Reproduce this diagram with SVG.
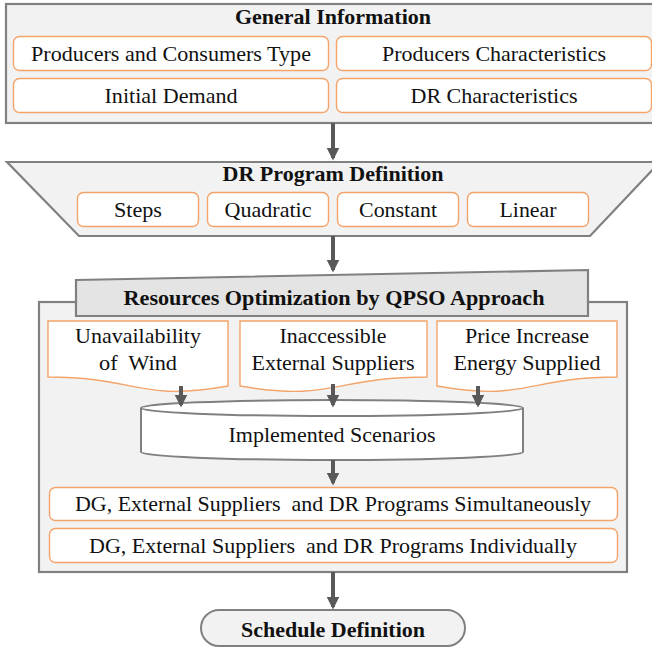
<svg xmlns="http://www.w3.org/2000/svg" width="652" height="650" viewBox="0 0 652 650">
<defs>
<style>
.grp{fill:#f2f2f2;stroke:#808080;stroke-width:2.2}
.hdr{fill:#e4e4e4;stroke:#808080;stroke-width:2.2}
.box{fill:#ffffff;stroke:#f4a46a;stroke-width:1.4}
.cyl{fill:#ffffff;stroke:#808080;stroke-width:2}
.t{font-family:'Liberation Serif',Tinos,'DejaVu Serif','Noto Serif',serif;font-size:22px;fill:#111;text-anchor:middle}
.b{font-weight:bold}
.arr{stroke:#595959;stroke-width:4;fill:none;marker-end:url(#ah)}
</style>
<marker id="ah" viewBox="0 0 10 10" refX="8" refY="5" markerWidth="3.2" markerHeight="4" markerUnits="strokeWidth" orient="auto">
<path d="M0,0 L10,5 L0,10 Z" fill="#595959"/>
</marker>
</defs>

<g id="general-information">
<rect class="grp" x="6" y="4" width="652" height="119"/>
<text class="t b" x="333" y="24" textLength="196" lengthAdjust="spacingAndGlyphs">General Information</text>
<g id="producers-consumers-type"><rect class="box" x="13.5" y="36.5" width="315" height="34" rx="6"/><text class="t" x="171" y="61" textLength="280" lengthAdjust="spacingAndGlyphs">Producers and Consumers Type</text></g>
<g id="producers-characteristics"><rect class="box" x="336.5" y="36.5" width="315" height="34" rx="6"/><text class="t" x="494" y="61" textLength="224" lengthAdjust="spacingAndGlyphs">Producers Characteristics</text></g>
<g id="initial-demand"><rect class="box" x="13.5" y="78.5" width="315" height="34" rx="6"/><text class="t" x="171" y="103" textLength="133" lengthAdjust="spacingAndGlyphs">Initial Demand</text></g>
<g id="dr-characteristics"><rect class="box" x="336.5" y="78.5" width="315" height="34" rx="6"/><text class="t" x="494" y="103" textLength="167" lengthAdjust="spacingAndGlyphs">DR Characteristics</text></g>
</g>

<g id="dr-program-definition">
<path class="grp" d="M7,162 L660,162 L590,236 L79,236 Z"/>
<text class="t b" x="333" y="181" textLength="221" lengthAdjust="spacingAndGlyphs">DR Program Definition</text>
<g id="steps"><rect class="box" x="77.5" y="192.5" width="121" height="34" rx="6"/><text class="t" x="138" y="217" textLength="48" lengthAdjust="spacingAndGlyphs">Steps</text></g>
<g id="quadratic"><rect class="box" x="207.5" y="192.5" width="121" height="34" rx="6"/><text class="t" x="268" y="217" textLength="87" lengthAdjust="spacingAndGlyphs">Quadratic</text></g>
<g id="constant"><rect class="box" x="337.5" y="192.5" width="121" height="34" rx="6"/><text class="t" x="398" y="217" textLength="78" lengthAdjust="spacingAndGlyphs">Constant</text></g>
<g id="linear"><rect class="box" x="467.5" y="192.5" width="121" height="34" rx="6"/><text class="t" x="528" y="217" textLength="57" lengthAdjust="spacingAndGlyphs">Linear</text></g>
</g>

<g id="resources-optimization">
<rect class="grp" x="39" y="302" width="588" height="270"/>
<path class="hdr" d="M76,280 L588,270 L588,316 L76,316 Z"/>
<text class="t b" x="334" y="305" textLength="421" lengthAdjust="spacingAndGlyphs">Resources Optimization by QPSO Approach</text>

<g id="unavailability-of-wind">
<path class="box" d="M48,321 H228 V386 C138,402 138,377 48,377 Z"/>
<text class="t" x="138" y="343" textLength="126" lengthAdjust="spacingAndGlyphs">Unavailability</text>
<text class="t" x="138" y="370" xml:space="preserve" textLength="78" lengthAdjust="spacingAndGlyphs">of  Wind</text>
</g>
<g id="inaccessible-external-suppliers">
<path class="box" d="M240,321 H427 V377 C333.5,377 333.5,402 240,386 Z"/>
<text class="t" x="333" y="343" textLength="107" lengthAdjust="spacingAndGlyphs">Inaccessible</text>
<text class="t" x="333" y="370" textLength="163" lengthAdjust="spacingAndGlyphs">External Suppliers</text>
</g>
<g id="price-increase-energy-supplied">
<path class="box" d="M437,321 H617 V377 C527,377 527,402 437,386 Z"/>
<text class="t" x="527" y="343" textLength="124" lengthAdjust="spacingAndGlyphs">Price Increase</text>
<text class="t" x="527" y="370" textLength="147" lengthAdjust="spacingAndGlyphs">Energy Supplied</text>
</g>

<g id="implemented-scenarios">
<path class="cyl" d="M141,408 A191,8 0 0 1 523,408 V452 A191,8 0 0 1 141,452 Z"/>
<path class="cyl" d="M141,408 A191,8 0 0 0 523,408" fill="none"/>
<text class="t" x="332" y="442" textLength="207" lengthAdjust="spacingAndGlyphs">Implemented Scenarios</text>
</g>

<g id="simultaneously"><rect class="box" x="49.5" y="487.5" width="568" height="33" rx="6"/><text class="t" x="333" y="511" xml:space="preserve" textLength="516" lengthAdjust="spacingAndGlyphs">DG, External Suppliers  and DR Programs Simultaneously</text></g>
<g id="individually"><rect class="box" x="49.5" y="528.5" width="568" height="34" rx="6"/><text class="t" x="333" y="553" xml:space="preserve" textLength="488" lengthAdjust="spacingAndGlyphs">DG, External Suppliers  and DR Programs Individually</text></g>
</g>

<g id="schedule-definition">
<rect x="201" y="610" width="264" height="36" rx="18" fill="#f2f2f2" stroke="#808080" stroke-width="2"/>
<text class="t b" x="333" y="637" textLength="184" lengthAdjust="spacingAndGlyphs">Schedule Definition</text>
</g>

<g id="connectors">
<line class="arr" x1="333" y1="123" x2="333" y2="158"/>
<line class="arr" x1="333" y1="236" x2="333" y2="270"/>
<line class="arr" x1="181" y1="386" x2="181" y2="405"/>
<line class="arr" x1="333" y1="384" x2="333" y2="405"/>
<line class="arr" x1="478" y1="386" x2="478" y2="405"/>
<line class="arr" x1="333" y1="460" x2="333" y2="483"/>
<line class="arr" x1="333" y1="572" x2="333" y2="607"/>
</g>
</svg>
